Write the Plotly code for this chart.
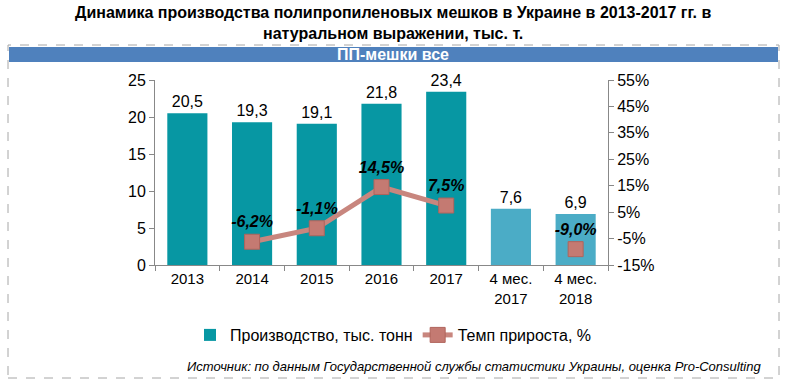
import plotly.graph_objects as go

categories = ["2013", "2014", "2015", "2016", "2017", "4 мес.<br>2017", "4 мес.<br>2018"]
production = [20.5, 19.3, 19.1, 21.8, 23.4, 7.6, 6.9]
growth = [None, -6.2, -1.1, 14.5, 7.5, None, -9.0]
left_ticks = [0, 5, 10, 15, 20, 25]
right_ticks = [-15, -5, 5, 15, 25, 35, 45, 55]

W, H = 787, 384
L, R, T, B = 155, 179, 80, 119
pw, ph = W - L - R, H - T - B

def px(x):
    return (x - L) / pw

def py(y):
    return (H - B - y) / ph

bar_colors = ["#0797a3"] * 5 + ["#4bacc6"] * 2
bar_text = [f"{v:.1f}".replace(".", ",") for v in production]
growth_text = ["" if g is None else f"{g:.1f}%".replace(".", ",") for g in growth]

fig = go.Figure()
fig.add_trace(go.Bar(
    x=categories, y=production, name="Производство, тыс. тонн",
    marker=dict(color=bar_colors, line=dict(width=0)),
    width=0.62,
    text=bar_text, textposition="outside", cliponaxis=False,
    textfont=dict(family="Liberation Sans, Arial", size=16, color="#000"),
    yaxis="y",
))
fig.add_trace(go.Scatter(
    x=categories, y=growth, name="Темп прироста, %",
    mode="lines+markers+text", connectgaps=False,
    line=dict(color="#c8867e", width=5),
    marker=dict(symbol="square", size=15, color="#c47a72", line=dict(color="#b0645c", width=1)),
    text=growth_text, textposition="top center",
    textfont=dict(family="Liberation Sans, Arial", size=16, color="#000", weight="bold", style="italic"),
    yaxis="y2", cliponaxis=False,
))

fig.update_layout(
    width=W, height=H, autosize=False,
    margin=dict(l=L, r=R, t=T, b=B),
    paper_bgcolor="white", plot_bgcolor="white",
    font=dict(family="Liberation Sans, Arial", size=15, color="#000"),
    showlegend=True,
    xaxis=dict(
        type="category", showgrid=False, showline=True, linecolor="#888", linewidth=1,
        ticks="outside", tickson="boundaries", ticklen=5, tickcolor="#888",
        tickfont=dict(size=15),
    ),
    yaxis=dict(
        range=[0, 25], tickvals=left_ticks, showgrid=False, showline=True,
        linecolor="#888", ticks="outside", ticklen=5, tickcolor="#888",
        tickfont=dict(size=16), zeroline=False,
    ),
    yaxis2=dict(
        range=[-15, 55], tickvals=right_ticks, ticktext=[f"{v}%" for v in right_ticks],
        overlaying="y", side="right", showgrid=False, showline=True,
        linecolor="#888", ticks="outside", ticklen=5, tickcolor="#888",
        tickfont=dict(size=16), zeroline=False,
    ),
    legend=dict(
        orientation="h", x=px(393), xanchor="center", y=py(335), yanchor="middle",
        font=dict(family="Liberation Sans Narrow, Liberation Sans, Arial", size=16),
        itemwidth=30, traceorder="normal",
    ),
    shapes=[
        dict(type="rect", xref="paper", yref="paper", x0=px(8), x1=px(779), y0=py(378), y1=py(45),
             line=dict(color="#a6a6a6", width=1, dash="dash"), fillcolor="rgba(0,0,0,0)", layer="below"),
        dict(type="rect", xref="paper", yref="paper", x0=px(9), x1=px(778), y0=py(62), y1=py(47),
             line=dict(width=0), fillcolor="#4f81bd", layer="below"),
    ],
    annotations=[
        dict(text="Динамика производства полипропиленовых мешков в Украине в 2013-2017 гг. в<br>натуральном выражении, тыс. т.",
             xref="paper", yref="paper", x=px(393), y=py(2), xanchor="center", yanchor="top",
             showarrow=False,
             font=dict(family="Liberation Sans Narrow, Liberation Sans, Arial", size=16, color="#000", weight="bold")),
        dict(text="ПП-мешки все", xref="paper", yref="paper", x=px(393), y=py(54.5),
             xanchor="center", yanchor="middle", showarrow=False,
             font=dict(family="Liberation Sans Narrow, Liberation Sans, Arial", size=16, color="white", weight="bold")),
        dict(text="Источник: по данным Государственной службы статистики Украины, оценка Pro-Consulting",
             xref="paper", yref="paper", x=px(763), y=py(366), xanchor="right", yanchor="middle",
             showarrow=False,
             font=dict(family="Liberation Sans Narrow, Liberation Sans, Arial", size=13, color="#000", style="italic")),
    ],
)

fig.write_html("out.html", config={"displayModeBar": False},
               post_script="document.body.style.margin='0';document.body.style.overflow='hidden';")
